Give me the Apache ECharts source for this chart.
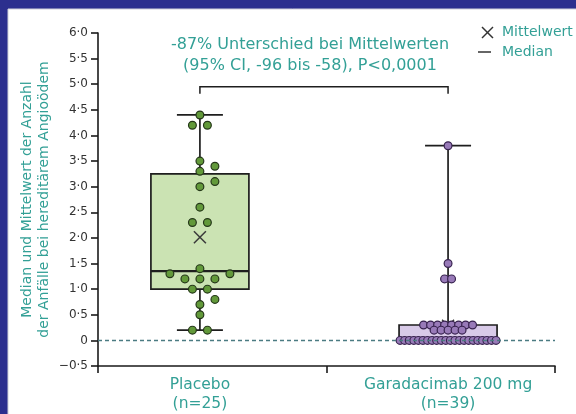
<!DOCTYPE html>
<html>
<head>
<meta charset="utf-8">
<script src="https://cdn.jsdelivr.net/npm/echarts@6/dist/echarts.min.js"></script>
<style>
  html, body { margin: 0; padding: 0; background: #2c2f8e; }
  #chart { width: 576px; height: 414px; }
</style>
</head>
<body>
<div id="chart"></div>
<script>
// ---- data ----
const categories = ['Placebo', 'Garadacimab 200 mg'];
const groupSizes = ['(n=25)', '(n=39)'];
const placeboValues = [
  4.4, 4.2, 4.2, 3.5, 3.4, 3.3, 3.1, 3.0, 2.6, 2.3, 2.3,
  1.4, 1.3, 1.3, 1.2, 1.2, 1.2, 1.0, 1.0, 0.8, 0.7, 0.5, 0.2, 0.2
];
const garadacimabValues = [
  3.8, 1.5, 1.2, 1.2,
  0.3, 0.3, 0.3, 0.3, 0.3, 0.3, 0.3, 0.3,
  0.2, 0.2, 0.2, 0.2, 0.2,
  0, 0, 0, 0, 0, 0, 0, 0, 0, 0, 0, 0, 0, 0, 0, 0, 0, 0, 0, 0, 0, 0
];
const annotationLines = [
  '-87% Unterschied bei Mittelwerten',
  '(95% CI, -96 bis -58), P<0,0001'
];
const legendLabels = ['Mittelwert', 'Median'];
const yAxisTitle = 'Median und Mittelwert der Anzahl\nder Anfälle bei hereditärem Angioödem';

// ---- layout ----
const TEAL = '#33a096';
const FONT = '"DejaVu Sans", Verdana, sans-serif';
const GRID = { left: 98, right: 21, top: 33, bottom: 48 };
const Y_MIN = -0.5, Y_MAX = 6;
const GROUP_X = [0.446, 1.532];
const BRACKET_Y = 4.95;
const PX_PER_UNIT = (414 - GRID.top - GRID.bottom) / (Y_MAX - Y_MIN);

const groupStyle = [
  { dot: '#62993a', dotBorder: '#25371a', box: '#cbe3b3', spacing: 15, minDist: 10 },
  { dot: '#987ab8', dotBorder: '#38234f', box: '#d8cae8', spacing: 7, minDist: 0 }
];
const ROW_MAX_WIDTH = 96;

// quartiles with the (n+1)p rule
function quantile(sorted, p) {
  const n = sorted.length;
  const h = (n + 1) * p;
  const lo = Math.floor(h);
  if (lo < 1) return sorted[0];
  if (lo >= n) return sorted[n - 1];
  return sorted[lo - 1] + (h - lo) * (sorted[lo] - sorted[lo - 1]);
}
function stats(values) {
  const s = values.slice().sort((a, b) => a - b);
  const mean = s.reduce((a, b) => a + b, 0) / s.length;
  return { min: s[0], q1: quantile(s, 0.25), med: quantile(s, 0.5), q3: quantile(s, 0.75), max: s[s.length - 1], mean };
}

// dot-plot spreading: equal values share a row, rows dodge earlier rows
function spread(values, spacing, minDist) {
  const rows = {};
  values.forEach((v, i) => { const k = v.toFixed(3); (rows[k] = rows[k] || []).push(i); });
  const keys = Object.keys(rows).sort((a, b) => parseFloat(a) - parseFloat(b));
  const placed = [];
  const offsets = new Array(values.length).fill(0);
  keys.forEach(k => {
    const idx = rows[k];
    const n = idx.length;
    const y = parseFloat(k) * PX_PER_UNIT;
    const sp = n > 1 ? Math.min(spacing, ROW_MAX_WIDTH / (n - 1)) : spacing;
    const layout = step => idx.map((_, i) => {
      if (n === 1) return step === 0 ? 0 : (step % 2 === 1 ? 1 : -1) * Math.ceil(step / 2) * spacing;
      const b = (i - (n - 1) / 2) * sp;
      return b + Math.sign(b) * step * spacing / 2;
    });
    let chosen = layout(0);
    if (minDist > 0) {
      for (let step = 0; step < 10; step++) {
        const offs = layout(step);
        const hit = offs.some(x => placed.some(p => Math.hypot(p.x - x, p.y - y) < minDist));
        if (!hit) { chosen = offs; break; }
      }
    }
    chosen.forEach((x, i) => { offsets[idx[i]] = x; placed.push({ x, y }); });
  });
  return offsets;
}

const groups = [placeboValues, garadacimabValues];
const groupStats = groups.map(stats);

const boxData = groupStats.map((s, g) => [GROUP_X[g], s.min, s.q1, s.med, s.q3, s.max, g]);
const meanData = groupStats.map((s, g) => [GROUP_X[g], s.mean]);
const dotData = [];
groups.forEach((vals, g) => {
  const offs = spread(vals, groupStyle[g].spacing, groupStyle[g].minDist);
  vals.forEach((v, i) => dotData.push([GROUP_X[g], v, offs[i], g]));
});

function fmtY(v) {
  if (Math.abs(v) < 1e-9) return '0';
  return (v < 0 ? '\u2212' : '') + Math.abs(v).toFixed(1).replace('.', '\u00b7');
}

const chart = echarts.init(document.getElementById('chart'), null, { renderer: 'canvas' });

const option = {
  backgroundColor: '#2c2f8e',
  animation: false,
  textStyle: { fontFamily: FONT },
  grid: GRID,
  xAxis: {
    type: 'value', min: 0, max: 2,
    axisLine: { onZero: false, lineStyle: { color: '#1a1a1a', width: 1.6 } },
    axisTick: { show: true, customValues: [0, 1, 2], length: 7, lineStyle: { color: '#1a1a1a', width: 1.6 } },
    axisLabel: {
      customValues: GROUP_X,
      margin: 9,
      color: TEAL, fontSize: 15.5, lineHeight: 19, fontFamily: FONT,
      formatter: v => {
        const g = GROUP_X.findIndex(x => Math.abs(x - v) < 1e-6);
        return g < 0 ? '' : categories[g] + '\n' + groupSizes[g];
      }
    },
    splitLine: { show: false }
  },
  yAxis: {
    type: 'value', min: Y_MIN, max: Y_MAX, interval: 0.5,
    name: yAxisTitle, nameLocation: 'middle', nameRotate: 90, nameGap: 45,
    nameMoveOverlap: false,
    nameTextStyle: { color: TEAL, fontSize: 14, lineHeight: 17, fontFamily: FONT, align: 'center' },
    axisLine: { show: true, onZero: false, lineStyle: { color: '#1a1a1a', width: 1.6 } },
    axisTick: { show: true, length: 7, lineStyle: { color: '#1a1a1a', width: 1.6 } },
    axisLabel: { formatter: fmtY, color: '#333333', fontSize: 12, margin: 10, fontFamily: FONT },
    splitLine: { show: false }
  },
  graphic: [
    { type: 'rect', z: -10, shape: { x: 8, y: 9, width: 570, height: 410 },
      style: { fill: '#ffffff', stroke: '#cfd0d8', lineWidth: 1 } },
    { type: 'text', x: 310, y: 45, style: { text: annotationLines[0], fill: TEAL, fontSize: 16, fontFamily: FONT, align: 'center', verticalAlign: 'middle' } },
    { type: 'text', x: 310, y: 66, style: { text: annotationLines[1], fill: TEAL, fontSize: 16, fontFamily: FONT, align: 'center', verticalAlign: 'middle' } },
    { type: 'line', shape: { x1: 482, y1: 27, x2: 493, y2: 38 }, style: { stroke: '#333', lineWidth: 1.5 } },
    { type: 'line', shape: { x1: 482, y1: 38, x2: 493, y2: 27 }, style: { stroke: '#333', lineWidth: 1.5 } },
    { type: 'text', x: 502, y: 32, style: { text: legendLabels[0], fill: TEAL, fontSize: 14, fontFamily: FONT, align: 'left', verticalAlign: 'middle' } },
    { type: 'line', shape: { x1: 478, y1: 52, x2: 491, y2: 52 }, style: { stroke: '#333', lineWidth: 1.5 } },
    { type: 'text', x: 502, y: 52, style: { text: legendLabels[1], fill: TEAL, fontSize: 14, fontFamily: FONT, align: 'left', verticalAlign: 'middle' } }
  ],
  series: [
    {
      // boxes, whiskers and medians
      type: 'custom', z: 2,
      encode: { x: 0, y: [1, 2, 3, 4, 5] },
      data: boxData,
      renderItem: (params, api) => {
        const gx = api.value(0);
        const st = groupStyle[api.value(6)];
        const y = i => api.coord([gx, api.value(i)])[1];
        const cx = api.coord([gx, 0])[0];
        const yMin = y(1), yQ1 = y(2), yMed = y(3), yQ3 = y(4), yMax = y(5);
        const line = (x1, y1, x2, y2, w) => ({ type: 'line', shape: { x1, y1, x2, y2 }, style: { stroke: '#1e1e1e', lineWidth: w || 1.7 } });
        const children = [];
        if (yMax < yQ3) { children.push(line(cx, yMax, cx, yQ3)); children.push(line(cx - 23, yMax, cx + 23, yMax)); }
        if (yMin > yQ1) { children.push(line(cx, yQ1, cx, yMin)); children.push(line(cx - 23, yMin, cx + 23, yMin)); }
        children.push({ type: 'rect', shape: { x: cx - 49, y: yQ3, width: 98, height: yQ1 - yQ3 },
          style: { fill: st.box, stroke: '#1e1e1e', lineWidth: 1.7 } });
        children.push(line(cx - 49, yMed, cx + 49, yMed, 2.2));
        return { type: 'group', children };
      },
      markLine: {
        silent: true, symbol: 'none', label: { show: false },
        lineStyle: { color: '#4b7b82', type: [4, 3], width: 1.3 },
        data: [{ yAxis: 0 }]
      }
    },
    {
      // bracket between the two groups
      type: 'custom', z: 2,
      encode: { x: [0, 1], y: 2 },
      data: [[GROUP_X[0], GROUP_X[1], BRACKET_Y]],
      renderItem: (params, api) => {
        const a = api.coord([api.value(0), api.value(2)]);
        const b = api.coord([api.value(1), api.value(2)]);
        return { type: 'polyline', shape: { points: [[a[0], a[1] + 7], a, b, [b[0], b[1] + 7]] },
          style: { stroke: '#1e1e1e', lineWidth: 1.5, fill: null } };
      }
    },
    {
      // group means
      type: 'custom', z: 3,
      encode: { x: 0, y: 1 },
      data: meanData,
      renderItem: (params, api) => {
        const p = api.coord([api.value(0), api.value(1)]);
        const r = 6;
        return { type: 'group', children: [
          { type: 'line', shape: { x1: p[0] - r, y1: p[1] - r, x2: p[0] + r, y2: p[1] + r }, style: { stroke: '#3a3a3a', lineWidth: 1.5 } },
          { type: 'line', shape: { x1: p[0] - r, y1: p[1] + r, x2: p[0] + r, y2: p[1] - r }, style: { stroke: '#3a3a3a', lineWidth: 1.5 } }
        ] };
      }
    },
    {
      // individual patients
      type: 'custom', z: 4,
      encode: { x: 0, y: 1 },
      data: dotData,
      renderItem: (params, api) => {
        const p = api.coord([api.value(0), api.value(1)]);
        const st = groupStyle[api.value(3)];
        return { type: 'circle', shape: { cx: p[0] + api.value(2), cy: p[1], r: 3.9 },
          style: { fill: st.dot, stroke: st.dotBorder, lineWidth: 1.2 } };
      }
    }
  ]
};
chart.setOption(option);
</script>
</body>
</html>
